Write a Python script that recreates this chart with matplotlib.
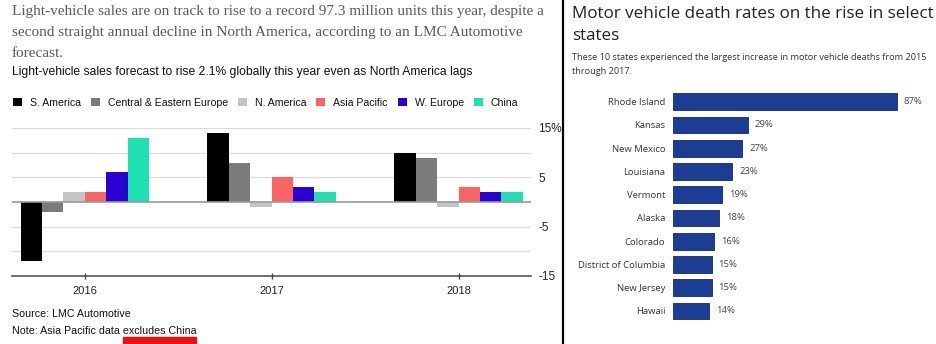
import matplotlib
matplotlib.use("Agg")
import matplotlib.pyplot as plt
import numpy as np

# ---------------- data ----------------
years = ["2016", "2017", "2018"]
regions = ["S. America", "Central & Eastern Europe", "N. America",
           "Asia Pacific", "W. Europe", "China"]
s_america = [-12, 14, 10]
ce_europe = [-2, 8, 9]
n_america = [2, -1, -1]
asia_pacific = [2, 5, 3]
w_europe = [6, 3, 2]
china = [13, 2, 2]
series = [s_america, ce_europe, n_america, asia_pacific, w_europe, china]
region_colors = ["#000000", "#7b7b7b", "#c4c4c4", "#f96464", "#2b00d2", "#1fe0b0"]
y_ticks = [15, 5, -5, -15]
y_ticklabels = ["15%", "5", "-5", "-15"]

states = ["Rhode Island", "Kansas", "New Mexico", "Louisiana", "Vermont",
          "Alaska", "Colorado", "District of Columbia", "New Jersey", "Hawaii"]
increase = [87, 29, 27, 23, 19, 18, 16, 15, 15, 14]

W, H = 936, 344
fig = plt.figure(figsize=(W / 100, H / 100), dpi=100)
fig.patch.set_facecolor("white")


def px(x):
    return x / W


def py(y):
    return 1 - y / H


def box(x0, y0, x1, y1):
    return [px(x0), py(y1), px(x1) - px(x0), py(y0) - py(y1)]


renderer = fig.canvas.get_renderer()


def fit(t, target_w):
    bb = t.get_window_extent(renderer)
    t.set_fontsize(t.get_fontsize() * target_w / bb.width)
    return t


SERIF = ["Liberation Serif", "DejaVu Serif"]
SANS = ["Liberation Sans", "DejaVu Sans"]
RSANS = ["Open Sans", "DejaVu Sans"]

# ---------------- left panel ----------------
title_lines = [
    "Light-vehicle sales are on track to rise to a record 97.3 million units this year, despite a",
    "second straight annual decline in North America, according to an LMC Automotive",
    "forecast.",
]
title_y = [11.7, 32.3, 53.3]
tl = [fig.text(px(12), py(y), s, family=SERIF, fontsize=11, color="#5a5a5a",
               va="center", ha="left") for s, y in zip(title_lines, title_y)]
fit(tl[0], 530)
for t in tl[1:]:
    t.set_fontsize(tl[0].get_fontsize())

sub = fig.text(px(12), py(71.5), "Light-vehicle sales forecast to rise 2.1% globally this year even as North America lags",
               family=SANS, fontsize=9, color="#111111", va="center", ha="left")
fit(sub, 462)

ax = fig.add_axes(box(12, 128, 530.7, 276))
n = len(series)
bw = 21.4 / 186.9
xg = np.arange(len(years))
containers = []
for i, (vals, col) in enumerate(zip(series, region_colors)):
    c = ax.bar(xg + (i - (n - 1) / 2) * bw, vals, width=bw, color=col,
               edgecolor="none", zorder=3, label=regions[i])
    containers.append(c)

ax.set_xlim(-0.3895, 2.386)
ax.set_ylim(-15, 15)
for g in [15, 10, 5, -5, -10]:
    ax.axhline(g, color="#dedede", lw=1, zorder=1)
ax.axhline(0, color="#9a9a9a", lw=1.2, zorder=4)
for sp in ["top", "left", "right"]:
    ax.spines[sp].set_visible(False)
ax.spines["bottom"].set_color("#444444")
ax.spines["bottom"].set_linewidth(1.1)
ax.set_xticks(xg, years)
ax.tick_params(axis="x", direction="inout", length=5, width=1, color="#444444",
               pad=5, labelsize=8, labelcolor="#222222")
ax.yaxis.tick_right()
ax.set_yticks(y_ticks, y_ticklabels)
ax.tick_params(axis="y", length=0, pad=5.5, labelsize=8.5, labelcolor="#222222")
for lab in ax.get_xticklabels() + ax.get_yticklabels():
    lab.set_family(SANS)

leg = ax.legend(containers, regions, ncol=6, loc="center left",
                bbox_to_anchor=(px(13), py(102.5)), bbox_transform=fig.transFigure,
                frameon=False, prop={"family": SANS, "size": 7.6},
                handlelength=0.85, handleheight=0.85, handletextpad=0.75,
                columnspacing=0.95, borderpad=0, borderaxespad=0)
for t in leg.get_texts():
    t.set_color("#111111")

fig.text(px(12), py(314.3), "Source: LMC Automotive", family=SANS, fontsize=7.7,
         color="#111111", va="center")
note = fig.text(px(12), py(331), "Note: Asia Pacific data excludes China", family=SANS,
                fontsize=7.7, color="#111111", va="center")
fit(note, 183)
fig.patches.append(plt.Rectangle((px(123.3), py(344)), px(195.7) - px(123.3),
                                 py(337) - py(344), transform=fig.transFigure,
                                 color="#ee1111", zorder=5))

# separator
fig.lines.append(plt.Line2D([px(562.5), px(562.5)], [0, 1], transform=fig.transFigure,
                            color="#000000", lw=1.6))

# ---------------- right panel ----------------
rt1 = fig.text(px(572), py(14), "Motor vehicle death rates on the rise in select",
               family=RSANS, fontsize=12, color="#222222", va="center")
fit(rt1, 358)
fig.text(px(572), py(35.5), "states", family=RSANS, fontsize=rt1.get_fontsize(),
         color="#222222", va="center")
rs1 = fig.text(px(572), py(58), "These 10 states experienced the largest increase in motor vehicle deaths from 2015",
               family=RSANS, fontsize=6.5, color="#333333", va="center")
fit(rs1, 356)
fig.text(px(572), py(72), "through 2017.", family=RSANS, fontsize=rs1.get_fontsize(),
         color="#333333", va="center")

ax2 = fig.add_axes(box(673, 90.1, 930, 322.6))
ypos = np.arange(len(states))
bars = ax2.barh(ypos, increase, height=0.72, color="#1b3d93", edgecolor="#10296e",
                linewidth=0.6)
ax2.set_xlim(0, 100)
ax2.set_ylim(len(states) - 0.5, -0.5)
for sp in ax2.spines.values():
    sp.set_visible(False)
ax2.set_xticks([])
ax2.set_yticks(ypos, states)
ax2.tick_params(axis="y", length=0, pad=5.5, labelsize=6.8, labelcolor="#333333")
for lab in ax2.get_yticklabels():
    lab.set_family(RSANS)
ax2.bar_label(bars, labels=[f"{v}%" for v in increase], padding=5,
              fontsize=6.8, color="#444444", family=RSANS)

fig.savefig("out.png", dpi=100)
